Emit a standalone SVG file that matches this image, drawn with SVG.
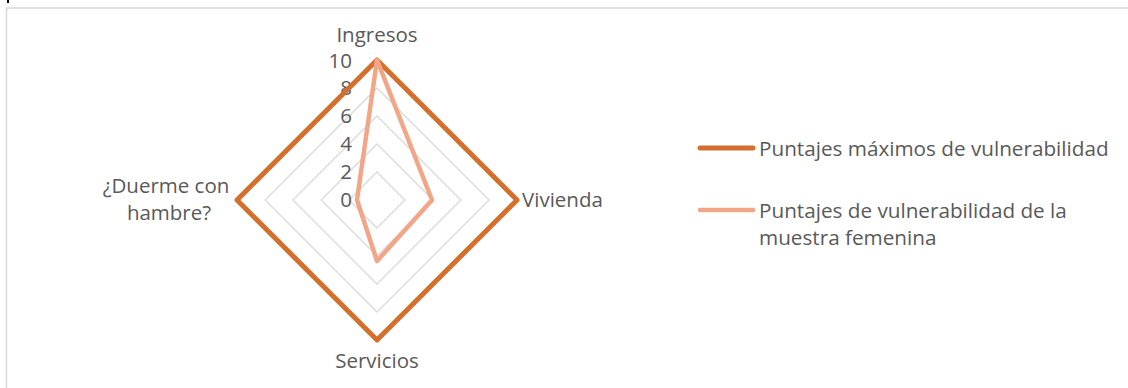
<svg xmlns="http://www.w3.org/2000/svg" width="1128" height="388" viewBox="0 0 1128 388">
<style>
.frame{stroke:#d9d9d9;stroke-width:1.5;fill:none}
.grid{stroke:#d9d9d9;stroke-width:1.3;fill:none}
.max{stroke:#d3702e;stroke-width:5;fill:none;stroke-linejoin:round;stroke-linecap:round}
.fem{stroke:#f2a687;stroke-width:4.5;fill:none;stroke-linejoin:round;stroke-linecap:round}
text{font-family:"Open Sans","Liberation Sans",sans-serif;font-size:20.5px;fill:#595959}
.c{text-anchor:middle}
.e{text-anchor:end}
.lg{font-size:20.7px}
</style>
<rect x="0" y="0" width="1128" height="388" fill="#ffffff"/>
<rect x="7" y="0" width="2" height="3" fill="#000000"/>
<path class="frame" d="M6.5 388 V8 H1128"/>
<g id="grid">
<polygon class="grid" points="377,172 405,200 377,228 349,200"/>
<polygon class="grid" points="377,144 433,200 377,256 321,200"/>
<polygon class="grid" points="377,116 461,200 377,284 293,200"/>
<polygon class="grid" points="377,88 489,200 377,312 265,200"/>
</g>
<g id="axis-values">
<text class="e" x="352" y="68">10</text>
<text class="e" x="352" y="95">8</text>
<text class="e" x="352" y="123">6</text>
<text class="e" x="352" y="151">4</text>
<text class="e" x="352" y="179">2</text>
<text class="e" x="352" y="207">0</text>
</g>
<g id="series">
<polygon id="series-max" class="max" points="377,60 517,200 377,340 237,200"/>
<polygon id="series-fem" class="fem" points="377,60 432,200 377,261 357,200"/>
</g>
<g id="axis-labels">
<text id="lbl-ingresos" class="c" x="377" y="42">Ingresos</text>
<text id="lbl-vivienda" x="522" y="207">Vivienda</text>
<text id="lbl-servicios" class="c" x="377" y="368">Servicios</text>
<text id="lbl-duerme" class="c" x="167"><tspan x="166" y="193">¿Duerme con</tspan><tspan x="169" y="220">hambre?</tspan></text>
</g>
<g id="legend">
<line class="max" x1="700" y1="148" x2="753" y2="148"/>
<text class="lg" x="759" y="156">Puntajes máximos de vulnerabilidad</text>
<line class="fem" x1="700" y1="210" x2="753" y2="210"/>
<text class="lg" x="759" y="218">Puntajes de vulnerabilidad de la</text>
<text class="lg" x="759" y="245">muestra femenina</text>
</g>
</svg>
